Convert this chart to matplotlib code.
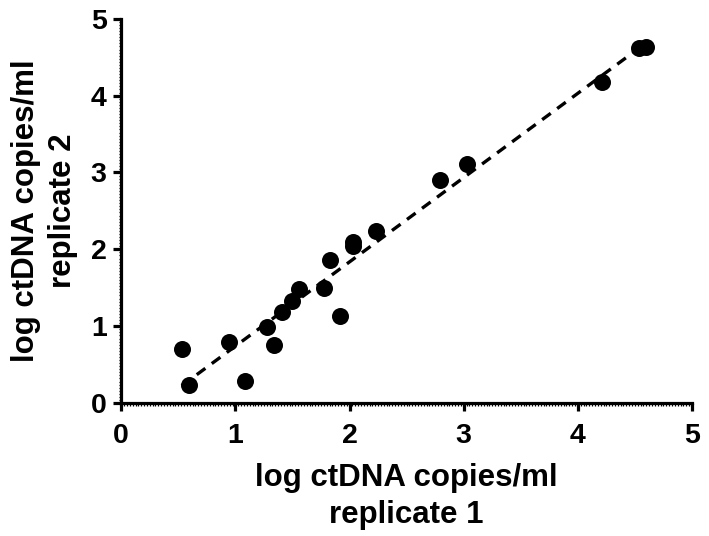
import numpy as np
import matplotlib
matplotlib.use("Agg")
import matplotlib.pyplot as plt
from matplotlib.ticker import MultipleLocator

# log ctDNA copies/ml, replicate 1 vs replicate 2
rep1 = [0.53, 0.59, 0.94, 1.08, 1.28, 1.34, 1.41, 1.50, 1.56, 1.78,
        1.83, 1.92, 2.03, 2.03, 2.23, 2.79, 3.03, 4.21, 4.54, 4.60]
rep2 = [0.70, 0.24, 0.79, 0.29, 0.99, 0.76, 1.18, 1.33, 1.49, 1.50,
        1.86, 1.13, 2.04, 2.10, 2.24, 2.90, 3.11, 4.18, 4.62, 4.63]

x_ticks = [0, 1, 2, 3, 4, 5]
y_ticks = [0, 1, 2, 3, 4, 5]

plt.rcParams["font.family"] = ["Liberation Sans", "DejaVu Sans"]
plt.rcParams["font.weight"] = "bold"

fig = plt.figure(figsize=(7.09, 5.36), dpi=100)
ax = fig.add_axes([0.171, 0.248, 0.805, 0.717])

x = np.array(rep1)
y = np.array(rep2)
slope, intercept = np.polyfit(x, y, 1)
xl = np.array([x.min(), x.max()])
ax.plot(xl, slope * xl + intercept, color="black", lw=2.4,
        linestyle=(0, (3.2, 2.4)), zorder=2)
ax.scatter(x, y, s=150, color="black", zorder=3, linewidths=0)

ax.set_xlim(0, 5)
ax.set_ylim(0, 5)
ax.set_xticks(x_ticks)
ax.set_yticks(y_ticks)
ax.xaxis.set_minor_locator(MultipleLocator(0.025))
ax.yaxis.set_minor_locator(MultipleLocator(0.04))

for side in ("top", "right"):
    ax.spines[side].set_visible(False)
for side in ("left", "bottom"):
    ax.spines[side].set_linewidth(2.3)

ax.tick_params(which="major", direction="out", length=5.5, width=2.3,
               labelsize=20.5)
ax.tick_params(axis="x", which="major", pad=9)
ax.tick_params(axis="y", which="major", pad=5)
ax.tick_params(which="minor", direction="out", length=1.8, width=0.9)
for lab in ax.get_xticklabels() + ax.get_yticklabels():
    lab.set_fontweight("bold")

ax.set_xlabel("log ctDNA copies/ml\nreplicate 1", fontsize=22.5,
              fontweight="bold", labelpad=10, linespacing=1.3)
ax.set_ylabel("log ctDNA copies/ml\nreplicate 2", fontsize=22.5,
              fontweight="bold", labelpad=9, linespacing=1.3)

fig.savefig("out.png", dpi=100)
